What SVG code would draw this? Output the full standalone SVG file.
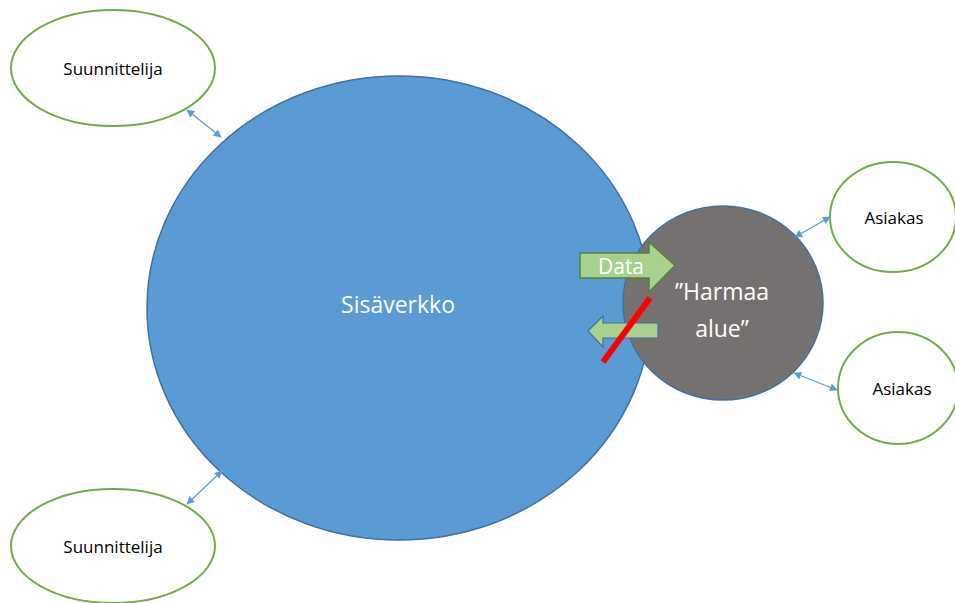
<svg xmlns="http://www.w3.org/2000/svg" width="955" height="603" viewBox="0 0 955 603">
  <style>
    .actor { fill: #ffffff; stroke: #70AD47; stroke-width: 2; }
    .lbl { font-family: "Open Sans", "Liberation Sans", Arial, sans-serif; font-size: 17px; fill: #000000; text-anchor: middle; }
    .big { font-family: "Open Sans", "Liberation Sans", Arial, sans-serif; font-size: 23px; fill: #ffffff; text-anchor: middle; }
    .link { stroke: #5B9BD5; stroke-width: 1.2; fill: none; marker-start: url(#head); marker-end: url(#head); }
  </style>
  <defs>
    <marker id="head" viewBox="0 0 10 10" refX="9" refY="5" markerWidth="8" markerHeight="8" markerUnits="userSpaceOnUse" orient="auto-start-reverse">
      <path d="M0,0 L10,5 L0,10 z" fill="#5B9BD5"/>
    </marker>
  </defs>

  <g id="sisaverkko">
    <ellipse cx="399" cy="308" rx="252" ry="232" fill="#5B9BD5" stroke="#41719C" stroke-width="1.5"/>
    <text class="big" x="398" y="313">Sisäverkko</text>
  </g>

  <g id="harmaa-alue">
    <ellipse cx="723" cy="303" rx="100" ry="97" fill="#767171" stroke="#41719C" stroke-width="1.5"/>
    <text class="big" x="722" y="300">”Harmaa</text>
    <text class="big" x="722" y="337">alue”</text>
  </g>

  <g id="suunnittelija-1">
    <ellipse class="actor" cx="113" cy="68" rx="102" ry="58"/>
    <text class="lbl" x="113" y="75">Suunnittelija</text>
  </g>

  <g id="suunnittelija-2">
    <ellipse class="actor" cx="113" cy="546" rx="102" ry="57"/>
    <text class="lbl" x="113" y="553">Suunnittelija</text>
  </g>

  <g id="asiakas-1">
    <ellipse class="actor" cx="893" cy="217" rx="63" ry="55"/>
    <text class="lbl" x="894" y="224">Asiakas</text>
  </g>

  <g id="asiakas-2">
    <ellipse class="actor" cx="898" cy="388" rx="60" ry="56"/>
    <text class="lbl" x="902" y="395">Asiakas</text>
  </g>

  <g id="connectors">
    <line class="link" x1="187" y1="110" x2="221" y2="137"/>
    <line class="link" x1="187" y1="504" x2="222" y2="471"/>
    <line class="link" x1="795" y1="237" x2="830" y2="217"/>
    <line class="link" x1="794" y1="373" x2="837" y2="390"/>

    <!-- outgoing data flow -->
    <g id="data-arrow">
      <path d="M580,253 L649,253 L649,242 L675,265.5 L649,292 L649,278 L580,278 z" fill="#A9D18E" stroke="#548235" stroke-width="1.5"/>
      <text x="621" y="274" font-family="Open Sans, Liberation Sans, Arial, sans-serif" font-size="21" fill="#ffffff" text-anchor="middle">Data</text>
    </g>

    <!-- blocked return flow -->
    <g id="blocked-arrow">
      <path d="M658,323 L603,323 L603,316 L588,331 L603,347 L603,338 L658,338 z" fill="#A9D18E" stroke="#41719C" stroke-width="1.2"/>
      <line x1="603" y1="362" x2="650" y2="298" stroke="#FF0000" stroke-width="6"/>
    </g>
  </g>
</svg>
